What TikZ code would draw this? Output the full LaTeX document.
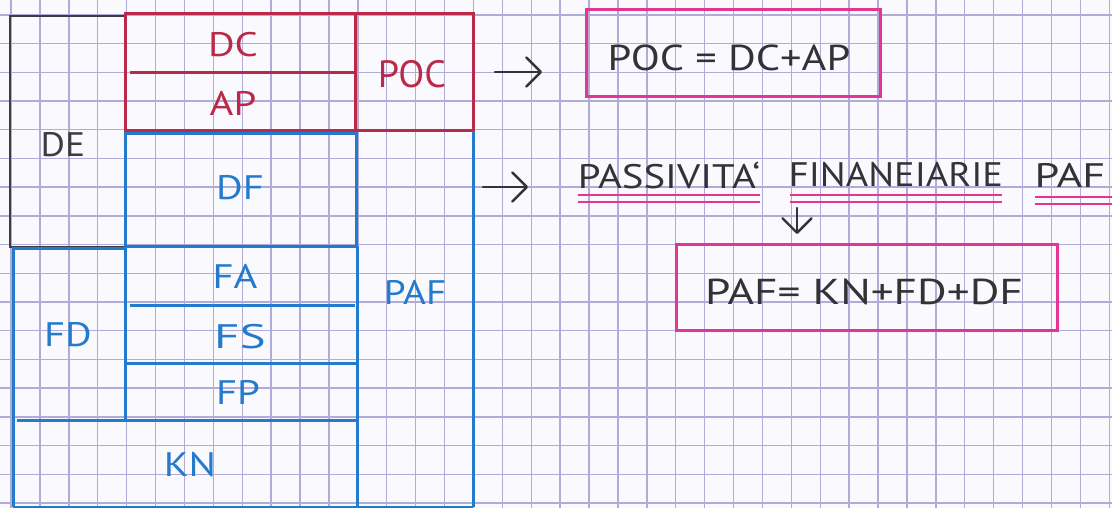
\documentclass[tikz,border=0pt]{standalone}
\usepackage{fontspec}
\setmainfont{PT Sans}
\usetikzlibrary{arrows.meta}
\definecolor{paper}{RGB}{250,250,254}
\definecolor{gridc}{RGB}{176,172,216}
\definecolor{inkgrey}{RGB}{62,60,64}
\definecolor{inkred}{RGB}{186,42,72}
\definecolor{inkblue}{RGB}{36,122,204}
\definecolor{inkpink}{RGB}{228,52,150}
\definecolor{inkblack}{RGB}{52,50,54}
\newcommand{\hw}[2][1.2]{\scalebox{#1}[1]{#2}}
\tikzset{
  gridl/.style={gridc, line width=1.4pt},
  greyline/.style={inkgrey, line width=2.6pt},
  redline/.style={inkred, line width=3pt},
  blueline/.style={inkblue, line width=3pt},
  pinkthin/.style={inkpink, line width=2pt},
  redlab/.style={text=inkred, font=\fontsize{34}{36}\selectfont, inner sep=0pt},
  bluelab/.style={text=inkblue, font=\fontsize{34}{36}\selectfont, inner sep=0pt},
  greylab/.style={text=inkgrey, font=\fontsize{34}{36}\selectfont, inner sep=0pt},
  blacklab/.style={text=inkblack, font=\fontsize{34}{36}\selectfont, inner sep=0pt},
  formbox/.style={draw=inkpink, line width=3pt, inner sep=0pt},
  arr/.style={inkblack, line width=2.4pt, line cap=round, -{Straight Barb[scale=2.3, line join=round, line cap=round]}},
}
\begin{document}
\begin{tikzpicture}[x=1pt,y=-1pt]
\useasboundingbox (0,0) rectangle (1112,508);
\fill[paper] (0,0) rectangle (1112,508);
% graph paper
\foreach \i in {0,...,38} \draw[gridl] (11+28.9*\i,0) -- ++(0,508);
\foreach \j in {0,...,17} \draw[gridl] (0,15+28.7*\j) -- ++(1112,0);

% DE box
\draw[greyline] (10,16) rectangle (125,247);
% red part
\draw[redline] (125,14) rectangle (473,131);
\draw[redline] (355,14) -- (355,131);
\draw[redline] (130,73) -- (355,73);
% blue part
\draw[blueline] (125,134) rectangle (356,246);
\draw[blueline] (12,248) -- (125,248);
\draw[blueline] (13,248) -- (13,507);
\draw[blueline] (125,246) -- (125,420);
\draw[blueline] (130,305) -- (355,305);
\draw[blueline] (127,363) -- (357,363);
\draw[blueline] (17,420) -- (357,420);
\draw[blueline] (357,246) -- (357,507);
\draw[blueline] (473,131) -- (473,507);
\draw[blueline] (13,507) -- (473,507);

% labels
\node[redlab] (dc) at (233,45) {\hw{DC}};
\node[redlab] (ap) at (233,103) {\hw{AP}};
\node[redlab, font=\fontsize{38}{40}\selectfont] (poc) at (412,74) {POC};
\node[greylab] (de) at (63,145) {\hw[1.1]{DE}};
\node[bluelab] (df) at (240,188) {\hw{DF}};
\node[bluelab] (fa) at (235,276) {\hw{FA}};
\node[bluelab] (fs) at (240,337) {\hw[1.45]{FS}};
\node[bluelab] (fp) at (238,392) {\hw{FP}};
\node[bluelab] (fd) at (68,335) {\hw{FD}};
\node[bluelab] (kn) at (190,465) {\hw{KN}};
\node[bluelab] (paf) at (415,292) {\hw[1.15]{PAF}};

% right side
\node[formbox, minimum width=294pt, minimum height=87pt] (pocf) at (733,53.5) {};
\node[blacklab, font=\fontsize{36}{38}\selectfont] (poct) at (729,58) {\hw[1.18]{POC = DC+AP}};
\coordinate (a1s) at (495,72);
\coordinate (a1e) at (542,72);
\draw[arr] (a1s) -- (a1e);

\node[blacklab] (w1) at (669,175) {\hw[1.2]{PASSIVITA`}};
\node[blacklab] (w2) at (896,175) {\hw[1.13]{FINANEIARIE}};
\node[blacklab] (w3) at (1070,175) {\hw[1.3]{PAF}};
\coordinate (a2s) at (483,187);
\coordinate (a2e) at (528,187);
\draw[arr] (a2s) -- (a2e);

% double underlines
\draw[pinkthin] (578,195) -- (760,195);
\draw[pinkthin] (578,202) -- (760,202);
\draw[pinkthin] (790,195) -- (1002,195);
\draw[pinkthin] (790,202) -- (1002,202);
\draw[pinkthin] (1035,197) -- (1112,197);
\draw[pinkthin] (1035,204) -- (1112,204);

\node[formbox, minimum width=381pt, minimum height=86pt] (paff) at (866.5,287) {};
\node[blacklab, font=\fontsize{36}{38}\selectfont] (paft) at (864,292) {\hw[1.26]{PAF= KN+FD+DF}};
\coordinate (a3s) at (797,208);
\coordinate (a3e) at (797,234);
\draw[arr] (a3s) -- (a3e);
\end{tikzpicture}
\end{document}
